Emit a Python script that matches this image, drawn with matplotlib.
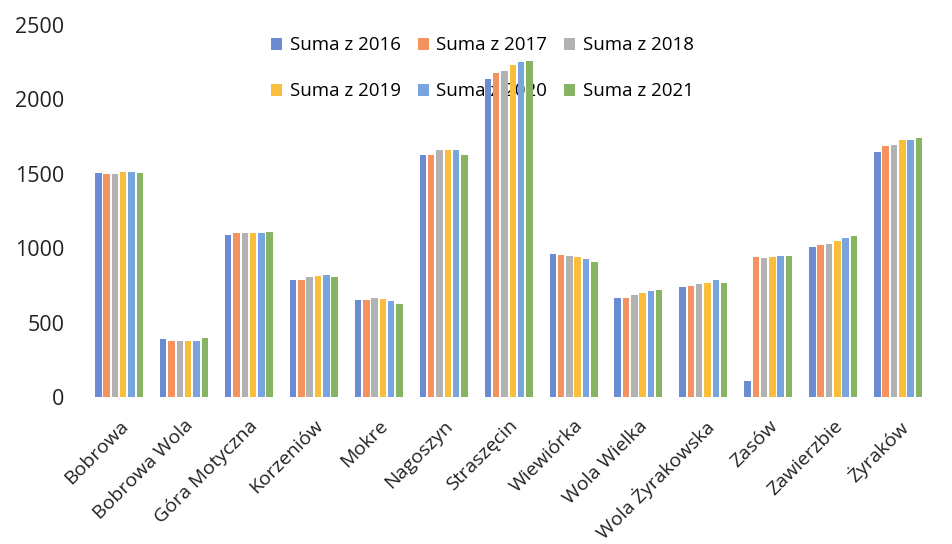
import numpy as np
import matplotlib.pyplot as plt

# Sumy dla miejscowości, lata 2016-2021
miejscowosci = ['Bobrowa', 'Bobrowa Wola', 'Góra Motyczna', 'Korzeniów', 'Mokre',
                'Nagoszyn', 'Straszęcin', 'Wiewiórka', 'Wola Wielka',
                'Wola Żyrakowska', 'Zasów', 'Zawierzbie', 'Żyraków']
lata = ['Suma z 2016', 'Suma z 2017', 'Suma z 2018',
        'Suma z 2019', 'Suma z 2020', 'Suma z 2021']

s2016 = [1505, 390, 1090, 785, 650, 1625, 2140, 960, 665, 740, 105, 1010, 1650]
s2017 = [1500, 380, 1100, 790, 655, 1630, 2180, 955, 665, 745, 940, 1025, 1685]
s2018 = [1500, 380, 1105, 805, 665, 1660, 2190, 950, 685, 760, 935, 1030, 1695]
s2019 = [1510, 375, 1105, 815, 660, 1660, 2230, 940, 700, 770, 940, 1050, 1725]
s2020 = [1510, 380, 1100, 820, 645, 1660, 2250, 925, 710, 785, 945, 1070, 1730]
s2021 = [1505, 395, 1110, 805, 625, 1630, 2260, 905, 720, 770, 950, 1085, 1740]
serie = [s2016, s2017, s2018, s2019, s2020, s2021]

kolory = ['#6b8bd3', '#f4935f', '#b2b2b2', '#fbbd3c', '#78a5dd', '#86b462']

plt.rcParams['font.family'] = ['Open Sans', 'DejaVu Sans']

fig = plt.figure(figsize=(9.52, 5.44), dpi=100)
ax = fig.add_axes([0.091, 0.27, 0.909, 0.684])

x = np.arange(len(miejscowosci))
slot = 0.128
szer = 0.1
slupki = []
for i, (nazwa, wart) in enumerate(zip(lata, serie)):
    slupki.append(ax.bar(x + (i - 2.5) * slot, wart, szer, color=kolory[i],
                         label=nazwa, zorder=2))

ax.set_xlim(-0.5, 12.83)
ax.set_ylim(0, 2500)
ax.set_yticks([0, 500, 1000, 1500, 2000, 2500])
ax.set_xticks(x)
ax.set_xticklabels(miejscowosci, rotation=45, ha='right', rotation_mode='anchor')
ax.tick_params(axis='y', length=0, pad=16, labelsize=15.5, labelcolor='#222222')
ax.tick_params(axis='x', length=0, pad=14, labelsize=14, labelcolor='#222222')
for s in ax.spines.values():
    s.set_visible(False)

# legenda wierszami: 2016 2017 2018 / 2019 2020 2021
kolejnosc = [0, 3, 1, 4, 2, 5]
leg = ax.legend([slupki[k] for k in kolejnosc], [lata[k] for k in kolejnosc],
                ncol=3, loc='upper left', bbox_to_anchor=(0.2, 1.0), frameon=False,
                fontsize=13.5, handlelength=0.6, handleheight=0.6, handletextpad=0.4,
                columnspacing=0.9, labelspacing=1.5, borderaxespad=0.2)
leg.set_zorder(1)

fig.savefig('out.png', dpi=100)
